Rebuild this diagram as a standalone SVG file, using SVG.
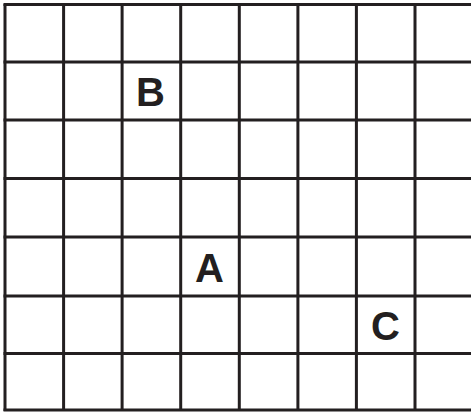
<svg xmlns="http://www.w3.org/2000/svg" width="471" height="412" viewBox="0 0 471 412">
<style>
.g{stroke:#231f20;stroke-width:3;fill:none}
.t{font-family:"Liberation Sans",Arial,sans-serif;font-weight:bold;font-size:40px;fill:#231f20;text-anchor:middle}
</style>
<rect width="471" height="412" fill="#fff"/>
<g id="grid" class="g">
<line x1="5" y1="4" x2="5" y2="411"/>
<line x1="63.6" y1="4" x2="63.6" y2="411"/>
<line x1="122.1" y1="4" x2="122.1" y2="411"/>
<line x1="180.7" y1="4" x2="180.7" y2="411"/>
<line x1="239.3" y1="4" x2="239.3" y2="411"/>
<line x1="297.9" y1="4" x2="297.9" y2="411"/>
<line x1="356.4" y1="4" x2="356.4" y2="411"/>
<line x1="415" y1="4" x2="415" y2="411"/>
<line x1="3.5" y1="4.5" x2="471" y2="4.5"/>
<line x1="3.5" y1="62" x2="471" y2="62"/>
<line x1="3.5" y1="120" x2="471" y2="120"/>
<line x1="3.5" y1="178.5" x2="471" y2="178.5"/>
<line x1="3.5" y1="237" x2="471" y2="237"/>
<line x1="3.5" y1="296" x2="471" y2="296"/>
<line x1="3.5" y1="353.5" x2="471" y2="353.5"/>
<line x1="3.5" y1="410" x2="471" y2="410"/>
</g>
<g id="B"><text class="t" x="150.5" y="106">B</text></g>
<g id="A"><text class="t" x="209.5" y="281.5">A</text></g>
<g id="C"><text class="t" x="385.5" y="340">C</text></g>
</svg>
